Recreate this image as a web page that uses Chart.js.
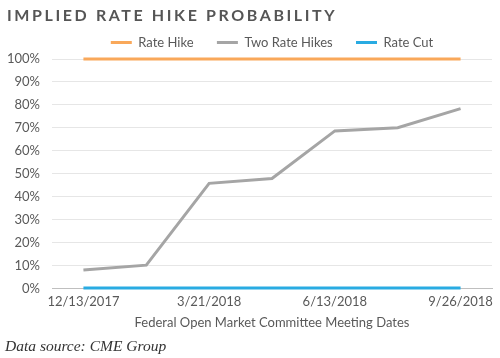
<!DOCTYPE html>
<html>
<head>
<meta charset="utf-8">
<script src="https://cdn.jsdelivr.net/npm/chart.js@4"></script>
<style>
  body { margin: 0; background: #fff; }
  #wrap { position: relative; width: 500px; height: 358px; }
  #chartTitle {
    position: absolute; left: 7px; top: 5px;
    font: 700 16px Lato, sans-serif; letter-spacing: 2.6px; color: #555;
  }
  #source {
    position: absolute; left: 5px; top: 337px;
    font: italic 15.5px "Liberation Serif", serif; color: #333;
  }
  canvas { position: absolute; left: 0; top: 0; }
</style>
</head>
<body>
<div id="wrap">
  <canvas id="rateChart" width="500" height="358"></canvas>
  <div id="chartTitle">IMPLIED RATE HIKE PROBABILITY</div>
  <div id="source">Data source: CME Group</div>
</div>
<script>
// FOMC meeting dates (only every other one gets a label on the axis)
var meetingDates = ['12/13/2017', '1/31/2018', '3/21/2018', '5/2/2018', '6/13/2018', '8/1/2018', '9/26/2018'];
var rateHike = [100, 100, 100, 100, 100, 100, 100];
var twoRateHikes = [8.2, 10.3, 45.9, 48.0, 68.7, 70.1, 78.4];
var rateCut = [0.4, 0.4, 0.4, 0.4, 0.4, 0.4, 0.4];

var textColor = '#595959';

function makeSet(label, data, color) {
    return {
        label: label,
        data: data,
        borderColor: color,
        backgroundColor: color,
        borderWidth: 3,
        pointRadius: 0,
        pointBorderWidth: 3,
        pointBorderColor: color,
        tension: 0,
        clip: false
    };
}

// center the legend over the plot area instead of the whole canvas
var legendOverPlot = {
    id: 'legendOverPlot',
    afterLayout: function (chart) {
        chart.legend.left = chart.chartArea.left;
        chart.legend.right = chart.chartArea.right;
    }
};

var ctx = document.getElementById('rateChart').getContext('2d');
var rateChart = new Chart(ctx, {
    type: 'line',
    data: {
        labels: meetingDates,
        datasets: [
            makeSet('Rate Hike', rateHike, '#f9a85a'),
            makeSet('Two Rate Hikes', twoRateHikes, '#a5a5a5'),
            makeSet('Rate Cut', rateCut, '#29abe2')
        ]
    },
    plugins: [legendOverPlot],
    options: {
        responsive: false,
        animation: false,
        layout: { padding: { top: 26, right: 8, bottom: 27, left: 0 } },
        plugins: {
            legend: {
                position: 'top',
                labels: {
                    usePointStyle: true,
                    pointStyle: 'line',
                    pointStyleWidth: 21,
                    padding: 10,
                    color: textColor,
                    font: { family: 'Lato', size: 13 },
                    // a bit more room between the entries, like the original
                    generateLabels: function (chart) {
                        var items = Chart.defaults.plugins.legend.labels.generateLabels(chart);
                        items.forEach(function (it, i) {
                            if (i < items.length - 1) it.text += '    ';
                        });
                        return items;
                    }
                }
            },
            tooltip: { enabled: false }
        },
        scales: {
            x: {
                offset: true,
                grid: { display: false, drawTicks: false },
                border: { color: '#bfbfbf', width: 1 },
                ticks: {
                    autoSkip: false,
                    maxRotation: 0,
                    padding: 5,
                    color: textColor,
                    font: { family: 'Lato', size: 13 },
                    callback: function (v, i) { return i % 2 === 0 ? meetingDates[i] : ''; }
                },
                title: {
                    display: true,
                    text: 'Federal Open Market Committee Meeting Dates',
                    color: textColor,
                    padding: { top: 1, bottom: 0 },
                    font: { family: 'Lato', size: 13 }
                }
            },
            y: {
                min: 0,
                max: 100,
                border: { display: false },
                afterFit: function (scale) { scale.width = 52; },
                grid: {
                    drawTicks: false,
                    color: function (c) { return c.tick.value === 0 ? '#bfbfbf' : '#e6e6e6'; }
                },
                ticks: {
                    stepSize: 10,
                    padding: 12,
                    color: textColor,
                    font: { family: 'Lato', size: 13 },
                    callback: function (v) { return v + '%'; }
                }
            }
        }
    }
});
</script>
</body>
</html>
